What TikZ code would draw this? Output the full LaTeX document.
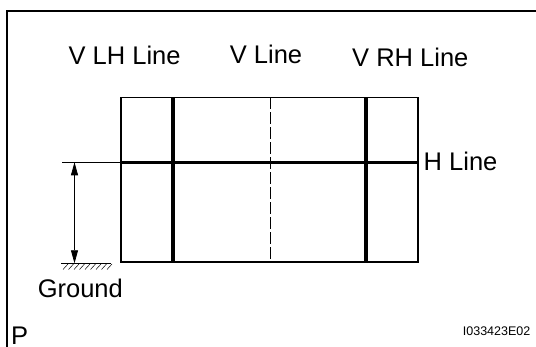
\documentclass[tikz,border=0pt]{standalone}
\usepackage{fontspec}
\setmainfont{Liberation Sans}
\usetikzlibrary{arrows.meta}
\begin{document}
\begin{tikzpicture}[x=1pt,y=-1pt,
  lbl/.style={font=\fontsize{25.5}{30}\selectfont, inner sep=0pt, anchor=base west},
  small/.style={font=\fontsize{12.5}{15}\selectfont, inner sep=0pt, anchor=base east},
  frame/.style={line width=2pt},
  border/.style={line width=1.7pt},
  heavy/.style={line width=3.2pt},
  thinline/.style={line width=0.6pt},
  centre/.style={line width=0.5pt, dash pattern=on 12pt off 3pt},
  dim/.style={line width=0.8pt, {Triangle[length=13pt,width=7pt]}-{Triangle[length=13pt,width=7pt]}}]
\useasboundingbox (0,0) rectangle (536,347);
% outer frame
\coordinate (fb) at (7,347);
\coordinate (fc) at (7,11);
\coordinate (fr) at (536,11);
\draw[frame] (fb) -- (fc) -- (fr);
% rectangle
\coordinate (tl) at (121,97.5);
\coordinate (br) at (418,262.3);
\coordinate (lt) at (173,97.5);
\coordinate (lb) at (173,262.3);
\coordinate (rt) at (366,97.5);
\coordinate (rb) at (366,262.3);
\coordinate (ct) at (270.5,97.5);
\coordinate (cb) at (270.5,262.3);
\coordinate (hl) at (121,162.3);
\coordinate (hr) at (418,162.3);
\coordinate (ex) at (62,162.3);
\draw[centre] (ct) -- (cb);
\draw[border] (tl) rectangle (br);
\draw[heavy] (lt) -- (lb);
\draw[heavy] (rt) -- (rb);
\draw[heavy] (hl) -- (hr);
% dimension
\draw[thinline] (ex) -- (hl);
\coordinate (at) at (74.5,162.3);
\coordinate (ab) at (74.5,263.3);
\draw[dim] (at) -- (ab);
% ground
\coordinate (g1) at (61,263.3);
\coordinate (g2) at (111,263.3);
\draw[thinline] (g1) -- (g2);
\foreach \i in {0,...,8} {
  \draw[line width=0.5pt] ({63+5.5*\i},269.5) -- ({68+5.5*\i},264);
}
% labels
\node[lbl] (vlh) at (68.4,65) {V LH Line};
\node[lbl] (vl) at (229.7,63.3) {V Line};
\node[lbl] (vrh) at (352,66.7) {V RH Line};
\node[lbl] (hline) at (423.5,170.7) {H Line};
\node[lbl] (gnd) at (37.6,297.7) {Ground};
\node[lbl] (p) at (11,345) {P};
\node[small] (id) at (530.5,336) {I033423E02};
\end{tikzpicture}
\end{document}
